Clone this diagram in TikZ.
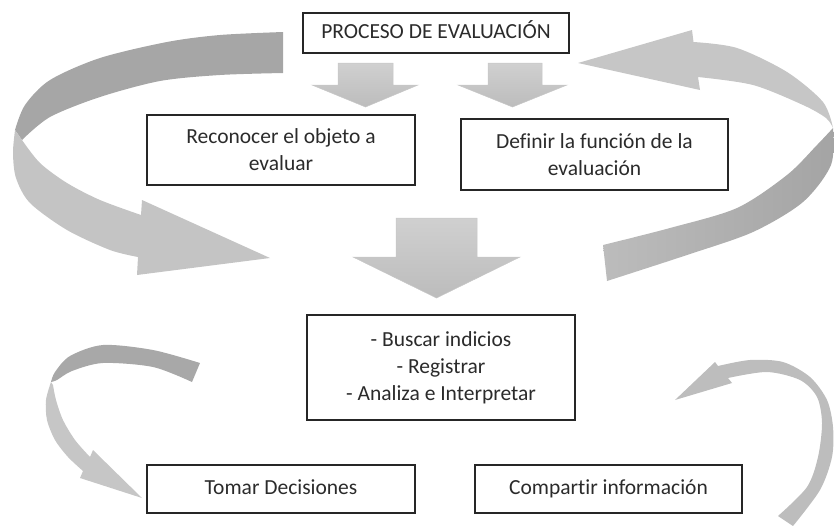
\documentclass[tikz,border=0pt]{standalone}
\usepackage{fontspec}
\setmainfont{Carlito}[Ligatures=NoCommon]
\definecolor{ldark}{HTML}{A6A6A6}
\definecolor{llight}{HTML}{C4C4C4}
\definecolor{rlight}{HTML}{C6C6C6}
\definecolor{rdarkA}{HTML}{A4A4A4}
\definecolor{rdarkB}{HTML}{BCBCBC}
\definecolor{sdark}{HTML}{A8A8A8}
\definecolor{slight}{HTML}{C6C6C6}
\definecolor{sright}{HTML}{BDBDBD}
\definecolor{btop}{HTML}{D0D0D0}
\definecolor{bbot}{HTML}{BCBCBC}
\definecolor{txt}{HTML}{2B2B2B}
\begin{document}
\begin{tikzpicture}[x=1pt,y=-1pt,
  box/.style={draw=black!85, line width=1.2pt, fill=white, align=center,
    inner sep=0pt, font=\fontsize{21.5}{27}\selectfont, text=txt},
  blockarrow/.style={top color=btop, bottom color=bbot, draw=black!22, line width=0.5pt},
]
\clip (0,0) rectangle (834,525);

% ---- boxes
\node[box, minimum width=266pt, minimum height=40pt] (proc) at (436,33) {\strut PROCESO DE EVALUACIÓN};
\node[box, minimum width=268pt, minimum height=70pt] (reco) at (281,150) {Reconocer el objeto a\\evaluar};
\node[box, minimum width=267pt, minimum height=71pt] (defi) at (594.5,154.5) {Definir la función de la\\evaluación};
\node[box, minimum width=268pt, minimum height=105pt] (mid) at (441,367.5) {- Buscar indicios\\- Registrar\\- Analiza e Interpretar};
\node[box, minimum width=268pt, minimum height=48pt] (toma) at (281,489) {\strut Tomar Decisiones};
\node[box, minimum width=267pt, minimum height=48pt] (comp) at (608.5,489) {\strut Compartir información};

% ---- block down arrows
\path[blockarrow] (338,63) -- (393,63) -- (393,85) -- (418,85) -- (365.5,107) -- (312,85) -- (338,85) -- cycle;
\path[blockarrow] (488,63) -- (542,63) -- (542,85) -- (567,85) -- (512.5,107) -- (458,85) -- (488,85) -- cycle;
\path[blockarrow] (396,218) -- (477,218) -- (477,257) -- (520,257) -- (436.5,298) -- (353,257) -- (396,257) -- cycle;

% ---- big curved arrow, left
\fill[ldark] plot[smooth] coordinates {(283,32) (220,35) (167,42) (100,58) (50,80) (25,105) (15,130)}
  -- (22,140) -- plot[smooth] coordinates {(22,140) (50,117) (100,97) (160,81) (220,75) (283,73)} -- cycle;
\fill[llight] plot[smooth] coordinates {(15,130) (13,153) (16,178) (30,203) (67,230) (110,250) (138,257)}
  -- (137,275) -- (270,258) -- (142,200) -- (141,215)
  -- plot[smooth] coordinates {(141,215) (100,200) (67,183) (40,163) (22,140)} -- cycle;

% ---- big curved arrow, right
\fill[rlight] (578,63) -- (692,30) -- (693.5,42)
  -- plot[smooth] coordinates {(693.5,42) (737,48) (787,72) (823,102) (833,128)}
  -- plot[smooth] coordinates {(833,128) (826,118) (803,105) (753,85) (698,77)} -- (700,90) -- cycle;
\shade[left color=rdarkB, right color=rdarkA]
  plot[smooth] coordinates {(833,128) (831,165) (803,202) (753,232) (687,255) (607,281)}
  -- (603,245) -- plot[smooth] coordinates {(603,245) (670,228) (737,208) (787,175) (817,145) (833,128)} -- cycle;

% ---- small curved arrow, bottom left
\fill[sdark] plot[smooth] coordinates {(200,363) (153,350) (103,345) (70,356) (55,372) (51,382)}
  -- plot[smooth] coordinates {(51,382) (57,380) (72,371) (103,363) (153,367) (192,382)} -- cycle;
\fill[slight] plot[smooth] coordinates {(51,382) (46,400) (47,420) (55,440) (68,457) (83,471)}
  -- (80,478) -- (142,498) -- (93,450) -- (90,457)
  -- plot[smooth] coordinates {(90,457) (75,440) (63,420) (56,400) (53,385)} -- cycle;

% ---- small curved arrow, bottom right
\fill[sright] (675,400) -- (715,362) -- (718,366)
  -- plot[smooth] coordinates {(718,366) (750,360) (783,362) (810,377) (827,400) (833,427) (832,457) (820,490) (793,526)}
  -- (778,516)
  -- plot[smooth] coordinates {(778,516) (807,487) (818,457) (822,423) (817,397) (800,380) (767,372) (728,378)}
  -- (732,383) -- cycle;
\end{tikzpicture}
\end{document}
